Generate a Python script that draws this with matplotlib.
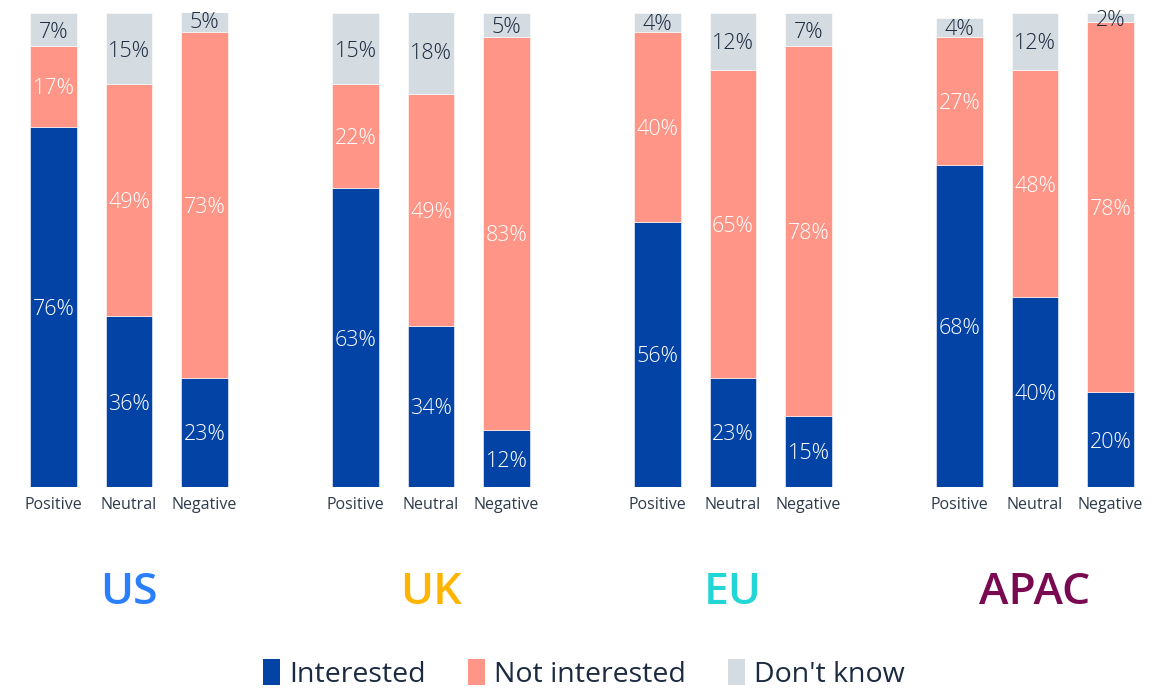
import matplotlib
matplotlib.use("Agg")
import matplotlib.pyplot as plt
import matplotlib.transforms as mtransforms
from matplotlib.patches import Patch
import numpy as np

plt.rcParams["font.family"] = ["Open Sans", "DejaVu Sans"]

regions = ["US", "UK", "EU", "APAC"]
region_colors = ["#2A7FFF", "#FFB400", "#22D6D6", "#790A52"]
sentiments = ["Positive", "Neutral", "Negative"]

# per region: Positive, Neutral, Negative
interested = [[76, 36, 23], [63, 34, 12], [56, 23, 15], [68, 40, 20]]
not_interested = [[17, 49, 73], [22, 49, 83], [40, 65, 78], [27, 48, 78]]
dont_know = [[7, 15, 5], [15, 18, 5], [4, 12, 7], [4, 12, 2]]

series_names = ["Interested", "Not interested", "Don't know"]
series_colors = ["#0343A6", "#FF9586", "#D4DBE1"]
label_colors = ["white", "white", "#1B2A40"]

W, H = 1168, 690
fig = plt.figure(figsize=(W / 100, H / 100), dpi=100)
ax = fig.add_axes([0, (H - 487) / H, 1, (487 - 13) / H])

step_px = 75.5
x0 = -53.5 / step_px
ax.set_xlim(x0, x0 + W / step_px)
ax.set_ylim(0, 100)

xs, ticks = [], []
for g in range(len(regions)):
    for i in range(len(sentiments)):
        xs.append(g * 4 + i)
        ticks.append(sentiments[i])
xs = np.array(xs)

data = [np.array(interested).ravel(), np.array(not_interested).ravel(),
        np.array(dont_know).ravel()]
bottom = np.zeros(len(xs))
for vals, color, tcol in zip(data, series_colors, label_colors):
    ax.bar(xs, vals, bottom=bottom, width=0.62, color=color,
           edgecolor="white", linewidth=0.4)
    for x, b, v in zip(xs, bottom, vals):
        ax.text(x, b + v / 2, f"{v}%", ha="center", va="center_baseline",
                color=tcol, fontsize=15.5, fontweight="light", clip_on=False)
    bottom += vals

ax.set_xticks(xs)
ax.set_xticklabels(ticks, fontsize=11.5, color="#2E3A4A")
ax.tick_params(axis="x", length=0, pad=7)
ax.set_yticks([])
for s in ax.spines.values():
    s.set_visible(False)

# region names under each group
trans = mtransforms.blended_transform_factory(ax.transData, fig.transFigure)
for g, (name, col) in enumerate(zip(regions, region_colors)):
    ax.text(g * 4 + 1, 1 - 587 / H, name, transform=trans, ha="center",
            va="center_baseline", fontsize=32, fontweight="semibold", color=col)

handles = [Patch(facecolor=c, label=n) for c, n in zip(series_colors, series_names)]
fig.legend(handles=handles, loc="center", bbox_to_anchor=(0.5, 1 - 674 / H),
           ncol=3, frameon=False, fontsize=20.5, handlelength=0.6,
           handleheight=1.0, handletextpad=0.3, columnspacing=1.5,
           labelcolor="#1B2A40", borderpad=0.2)

fig.savefig("out.png", dpi=100)
